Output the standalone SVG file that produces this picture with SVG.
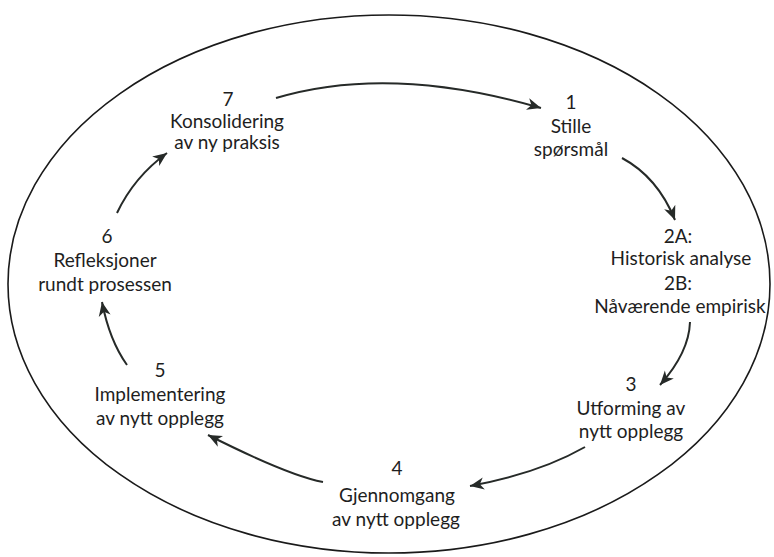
<svg xmlns="http://www.w3.org/2000/svg" width="774" height="557" viewBox="0 0 774 557">
<style>
.t{font-family:Lato,"Open Sans","Liberation Sans",sans-serif;font-size:19px;fill:#1e1e1e;text-anchor:middle}
.c{fill:none;stroke:#262a28;stroke-width:2}
</style>
<defs>
<marker id="ah" markerUnits="userSpaceOnUse" markerWidth="18" markerHeight="14" refX="14" refY="7" orient="auto" viewBox="0 0 18 14">
<path d="M0,1 L14,7 L0,13 L4,7 Z" fill="#262a28"/>
</marker>
</defs>
<rect width="774" height="557" fill="#fff"/>
<ellipse cx="389" cy="284" rx="381" ry="269" fill="none" stroke="#1a1a1a" stroke-width="1.6"/>
<g id="connectors">
<path class="c" d="M276,98 Q390,64 541,108" marker-end="url(#ah)"/>
<path class="c" d="M622,158 Q657.5,177 675,220" marker-end="url(#ah)"/>
<path class="c" d="M690,322 Q689,352.5 660,385" marker-end="url(#ah)"/>
<path class="c" d="M585,447 Q538.5,473.5 470,486" marker-end="url(#ah)"/>
<path class="c" d="M323,482 Q288.5,475.5 208,435" marker-end="url(#ah)"/>
<path class="c" d="M127,365 Q109.5,340.5 102,302" marker-end="url(#ah)"/>
<path class="c" d="M117,213 Q134,177 167,153" marker-end="url(#ah)"/>
</g>
<g id="n7"><text class="t" x="228" y="106">7</text><text class="t" x="227" y="128">Konsolidering</text><text class="t" x="227" y="149">av ny praksis</text></g>
<g id="n1"><text class="t" x="571" y="109">1</text><text class="t" x="571" y="133">Stille</text><text class="t" x="571" y="156">spørsmål</text></g>
<g id="n2"><text class="t" x="678" y="243">2A:</text><text class="t" x="681" y="265">Historisk analyse</text><text class="t" x="678" y="290">2B:</text><text class="t" x="680" y="313">Nåværende empirisk</text></g>
<g id="n3"><text class="t" x="631" y="391">3</text><text class="t" x="631" y="415">Utforming av</text><text class="t" x="631" y="438">nytt opplegg</text></g>
<g id="n4"><text class="t" x="397" y="475">4</text><text class="t" x="397" y="502">Gjennomgang</text><text class="t" x="396" y="526">av nytt opplegg</text></g>
<g id="n5"><text class="t" x="160" y="377">5</text><text class="t" x="160" y="401">Implementering</text><text class="t" x="160" y="425">av nytt opplegg</text></g>
<g id="n6"><text class="t" x="107" y="243">6</text><text class="t" x="105" y="267">Refleksjoner</text><text class="t" x="105" y="291">rundt prosessen</text></g>
</svg>
